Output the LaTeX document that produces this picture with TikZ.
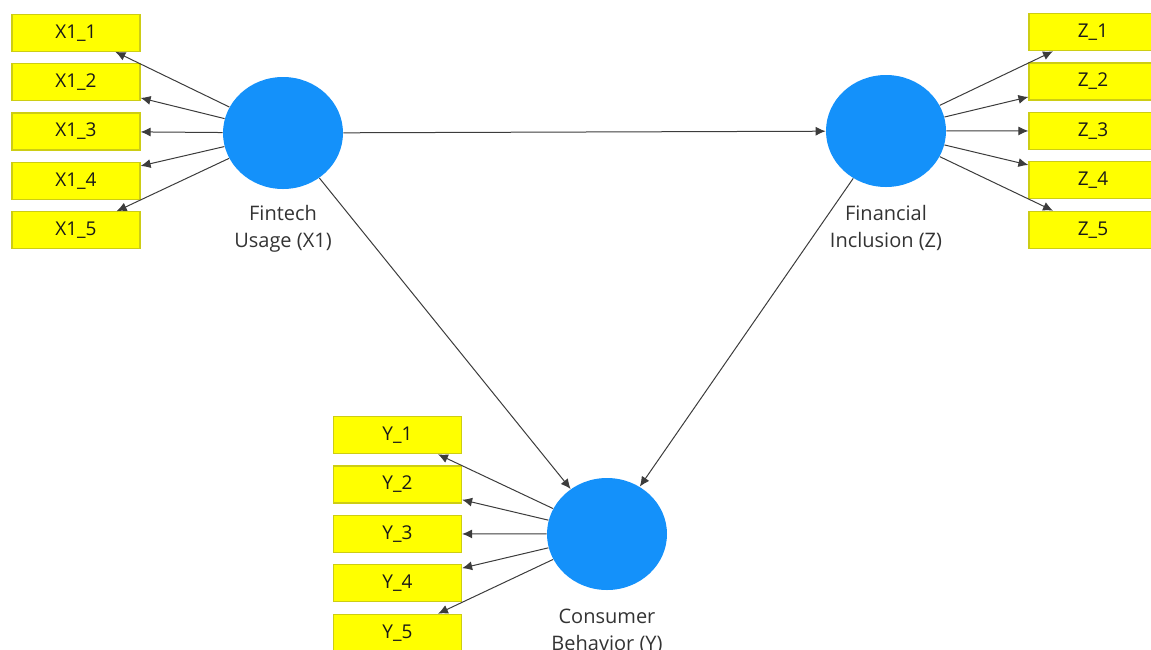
\documentclass[tikz,border=0pt]{standalone}
\usepackage{fontspec}
\setmainfont{Open Sans}
\usepackage{tikz}
\usetikzlibrary{arrows.meta,matrix,positioning,shapes.geometric}

\definecolor{lvblue}{RGB}{20,145,250}
\definecolor{mvyellow}{RGB}{255,255,0}
\definecolor{mvborder}{RGB}{205,205,20}
\definecolor{pathgray}{RGB}{60,60,60}

\tikzset{
  latent/.style={ellipse,fill=lvblue,minimum width=60pt,minimum height=56pt,inner sep=0pt},
  manifest/.style={rectangle,fill=mvyellow,draw=mvborder,line width=0.6pt,
                   minimum width=64pt,minimum height=18.5pt,inner sep=0pt,
                   font=\fontsize{9.5}{11}\selectfont,text=black!90},
  lvlabel/.style={align=center,font=\fontsize{10}{13.5}\selectfont,text=black!80},
  indicators/.style={matrix of nodes,nodes={manifest},
                     row sep={24.7pt,between origins}},
  path/.style={->,draw=pathgray,line width=0.5pt}
}

\begin{document}
\begin{tikzpicture}[x=0.5pt,y=-0.5pt,>={Latex[length=5pt,width=4.5pt]}]

  \useasboundingbox (0,0) rectangle (1151,649);

  % latent variables
  \node [latent] (fin) at (283,133) {} ;
  \node [latent] (inc) at (886,131) {} ;
  \node [latent] (beh) at (607,534) {} ;

  \node [lvlabel] (finlab) at (283,229) {Fintech\\Usage (X1)} ;
  \node [lvlabel] (inclab) at (886,228) {Financial\\Inclusion (Z)} ;
  \node [lvlabel] (behlab) at (607,631) {Consumer\\Behavior (Y)} ;

  % indicator blocks
  \matrix [indicators] (mx) at (76,131.5) {
%
  |[name=x1]| X1\_1 \\
  |[name=x2]| X1\_2 \\
  |[name=x3]| X1\_3 \\
  |[name=x4]| X1\_4 \\
  |[name=x5]| X1\_5 \\
%
  } ;

  \matrix [indicators] (mz) at (1093,131) {
%
  |[name=z1]| Z\_1 \\
  |[name=z2]| Z\_2 \\
  |[name=z3]| Z\_3 \\
  |[name=z4]| Z\_4 \\
  |[name=z5]| Z\_5 \\
%
  } ;

  \matrix [indicators] (my) at (397.5,534) {
%
  |[name=y1]| Y\_1 \\
  |[name=y2]| Y\_2 \\
  |[name=y3]| Y\_3 \\
  |[name=y4]| Y\_4 \\
  |[name=y5]| Y\_5 \\
%
  } ;

  % outer loadings
  \draw [path] (fin) -- (x1) ;
  \draw [path] (fin) -- (x2) ;
  \draw [path] (fin) -- (x3) ;
  \draw [path] (fin) -- (x4) ;
  \draw [path] (fin) -- (x5) ;

  \draw [path] (inc) -- (z1) ;
  \draw [path] (inc) -- (z2) ;
  \draw [path] (inc) -- (z3) ;
  \draw [path] (inc) -- (z4) ;
  \draw [path] (inc) -- (z5) ;

  \draw [path] (beh) -- (y1) ;
  \draw [path] (beh) -- (y2) ;
  \draw [path] (beh) -- (y3) ;
  \draw [path] (beh) -- (y4) ;
  \draw [path] (beh) -- (y5) ;

  % inner paths
  \draw [path] (fin) -- (inc) ;
  \draw [path] (fin) -- (beh) ;
  \draw [path] (inc) -- (beh) ;

\end{tikzpicture}
\end{document}
